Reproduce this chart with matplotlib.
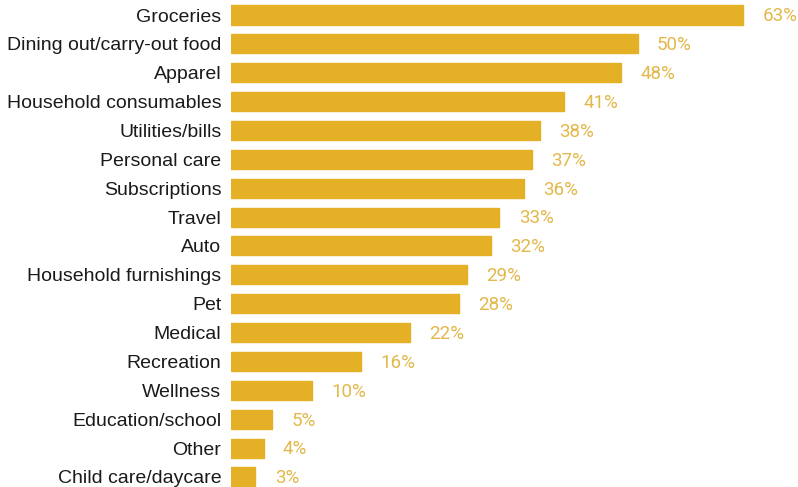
import matplotlib

matplotlib.use("Agg")
import matplotlib.pyplot as plt

CATEGORIES = [
    "Groceries",
    "Dining out/carry-out food",
    "Apparel",
    "Household consumables",
    "Utilities/bills",
    "Personal care",
    "Subscriptions",
    "Travel",
    "Auto",
    "Household furnishings",
    "Pet",
    "Medical",
    "Recreation",
    "Wellness",
    "Education/school",
    "Other",
    "Child care/daycare",
]
SHARES = [63, 50, 48, 41, 38, 37, 36, 33, 32, 29, 28, 22, 16, 10, 5, 4, 3]

BAR_COLOR = "#E4B026"
VALUE_COLOR = "#E3B84A"

fig = plt.figure(figsize=(7.98, 4.87), dpi=100)
ax = fig.add_axes([231 / 798, 0, 567 / 798, 1])

positions = list(range(len(CATEGORIES)))
ax.barh(
    positions,
    SHARES,
    height=0.66,
    color=BAR_COLOR,
    edgecolor=BAR_COLOR,
    linewidth=1,
    joinstyle="round",
)

for pos, value in zip(positions, SHARES):
    ax.annotate(
        f"{value}%",
        xy=(value, pos),
        xytext=(14, -1),
        textcoords="offset points",
        va="center",
        ha="left",
        fontsize=13.5,
        fontfamily="Roboto",
        color=VALUE_COLOR,
    )

ax.set_yticks(positions)
ax.set_yticklabels(CATEGORIES, fontsize=14, fontfamily="Liberation Sans", color="#1a1a1a")
ax.tick_params(axis="y", length=0, pad=7)
ax.set_xticks([])
ax.set_xlim(0, 567 / 8.13)
ax.set_ylim(16.35, -0.52)
for spine in ax.spines.values():
    spine.set_visible(False)

fig.savefig("out.png", dpi=100)
